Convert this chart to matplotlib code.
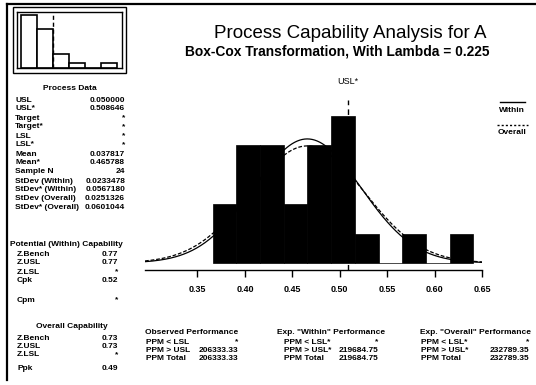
import numpy as np
import matplotlib
matplotlib.use("Agg")
import matplotlib.pyplot as plt
from matplotlib.patches import Rectangle
from matplotlib.lines import Line2D

# ---------------- data ----------------
# transformed histogram (Box-Cox, lambda=0.225)
bin_edges_t = [0.366, 0.391, 0.416, 0.441, 0.466, 0.491, 0.516, 0.541, 0.566, 0.591, 0.616, 0.641]
counts_t = [2, 4, 4, 2, 4, 5, 1, 0, 1, 0, 1]
# raw data mini histogram
bin_edges_raw = [0.01, 0.03, 0.05, 0.07, 0.09, 0.11, 0.13]
counts_raw = [11, 8, 3, 1, 0, 1]
usl_raw = 0.05
usl_t = 0.508646
mean_t = 0.465788
sd_within_t = 0.0567180
sd_overall_t = 0.0601044
n_obs = 24
xticks = [0.35, 0.40, 0.45, 0.50, 0.55, 0.60, 0.65]
xtick_labels = ["0.35", "0.40", "0.45", "0.50", "0.55", "0.60", "0.65"]

title = "Process Capability Analysis for A"
subtitle = "Box-Cox Transformation, With Lambda = 0.225"

process_labels = ["USL", "USL*", "Target", "Target*", "LSL", "LSL*", "Mean", "Mean*",
                  "Sample N", "StDev (Within)", "StDev* (Within)", "StDev (Overall)",
                  "StDev* (Overall)"]
process_values = ["0.050000", "0.508646", "*", "*", "*", "*", "0.037817", "0.465788",
                  "24", "0.0233478", "0.0567180", "0.0251326", "0.0601044"]
within_labels = ["Z.Bench", "Z.USL", "Z.LSL", "Cpk"]
within_values = ["0.77", "0.77", "*", "0.52"]
cpm_label, cpm_value = "Cpm", "*"
overall_labels = ["Z.Bench", "Z.USL", "Z.LSL", "Ppk"]
overall_values = ["0.73", "0.73", "*", "0.49"]

perf_headers = ["Observed Performance", "Exp. \"Within\" Performance", "Exp. \"Overall\" Performance"]
perf_labels = [["PPM < LSL", "PPM > USL", "PPM Total"],
               ["PPM < LSL*", "PPM > USL*", "PPM Total"],
               ["PPM < LSL*", "PPM > USL*", "PPM Total"]]
perf_values = [["*", "206333.33", "206333.33"],
               ["*", "219684.75", "219684.75"],
               ["*", "232789.35", "232789.35"]]

# ---------------- figure ----------------
plt.rcParams['font.family'] = ['Liberation Sans', 'DejaVu Sans']
W, H = 536, 385
fig = plt.figure(figsize=(W / 100, H / 100), dpi=100)
fig.patch.set_facecolor("white")


def P(x, y):
    return (x / W, 1 - y / H)


def add_ax(x0, y0, x1, y1):
    return fig.add_axes([x0 / W, 1 - y1 / H, (x1 - x0) / W, (y1 - y0) / H])

# frame lines (top and left)
fig.add_artist(Line2D([7 / W, 1], [1 - 4 / H, 1 - 4 / H], color="black", lw=1.6))
fig.add_artist(Line2D([7 / W, 7 / W], [1 - 4 / H, 1 - 380 / H], color="black", lw=1.6))

# mini histogram box
fig.add_artist(Rectangle(P(13, 73), 113 / W, 66 / H, fill=False, ec="black", lw=1.0))
axm = add_ax(17, 12, 122, 68)
axm.bar(bin_edges_raw[:-1], counts_raw, width=np.diff(bin_edges_raw), align="edge",
        color="white", edgecolor="black", linewidth=1.2)
axm.axvline(usl_raw, color="black", ls=(0, (3, 2)), lw=1.0)
axm.set_xlim(0.005, 0.136)
axm.set_ylim(0, 11.6)
axm.set_xticks([])
axm.set_yticks([])
for s in axm.spines.values():
    s.set_linewidth(1.0)

# main histogram
ax = add_ax(145, 100, 482, 270)
ax.bar(bin_edges_t[:-1], counts_t, width=np.diff(bin_edges_t), align="edge",
       color="black", edgecolor="black", linewidth=0.5, zorder=2)
bw = bin_edges_t[1] - bin_edges_t[0]
xs = np.linspace(0.2947, 0.65, 400)
for sd, ls in [(sd_within_t, "-"), (sd_overall_t, (0, (3, 1.5)))]:
    ys = n_obs * bw * np.exp(-0.5 * ((xs - mean_t) / sd) ** 2) / (sd * np.sqrt(2 * np.pi))
    ax.plot(xs, ys, color="black", lw=0.9, ls=ls, zorder=3)
ax.axvline(usl_t, color="black", ls=(0, (4, 3)), lw=1.0, zorder=1)
ax.set_xlim(0.2947, 0.65)
ax.set_ylim(-0.238, 5.544)
for sp in ["left", "top", "right"]:
    ax.spines[sp].set_visible(False)
ax.spines["bottom"].set_linewidth(1.0)
ax.set_yticks([])
ax.set_xticks(xticks)
ax.set_xticklabels(xtick_labels, fontsize=6.5, fontweight="bold")
ax.tick_params(axis="x", length=5, width=1.0, pad=6)
ax.text(usl_t, 1.11, "USL*", transform=ax.get_xaxis_transform(), ha="center", va="center",
        fontsize=6.5)

# titles
fig.text(*P(350, 33), title, ha="center", va="center", fontsize=13.5)
fig.text(*P(337, 51), subtitle, ha="center", va="center", fontsize=9.9, fontweight="bold")

# legend
fig.add_artist(Line2D([500 / W, 525 / W], [1 - 102 / H] * 2, color="black", lw=1.0))
fig.text(*P(512, 110), "Within", ha="center", va="center", fontsize=6, fontweight="bold")
fig.add_artist(Line2D([497 / W, 528 / W], [1 - 125 / H] * 2, color="black", lw=1.0,
                      ls=(0, (1.5, 1.5))))
fig.text(*P(512, 133), "Overall", ha="center", va="center", fontsize=6, fontweight="bold")

# left panel
fs = 6.0
fig.text(*P(70, 89), "Process Data", ha="center", va="center", fontsize=fs, fontweight="bold")
y = 100
for lab, val in zip(process_labels, process_values):
    fig.text(*P(15, y), lab, ha="left", va="center", fontsize=fs, fontweight="bold")
    fig.text(*P(125, y), val, ha="right", va="center", fontsize=fs, fontweight="bold")
    y += 9.0
fig.text(*P(66, 244), "Potential (Within) Capability", ha="center", va="center", fontsize=fs,
         fontweight="bold")
y = 254
for lab, val in zip(within_labels, within_values):
    fig.text(*P(17, y), lab, ha="left", va="center", fontsize=fs, fontweight="bold")
    fig.text(*P(118, y), val, ha="right", va="center", fontsize=fs, fontweight="bold")
    y += 9.0
fig.text(*P(17, 300), cpm_label, ha="left", va="center", fontsize=fs, fontweight="bold")
fig.text(*P(118, 300), cpm_value, ha="right", va="center", fontsize=fs, fontweight="bold")
fig.text(*P(72, 327), "Overall Capability", ha="center", va="center", fontsize=fs,
         fontweight="bold")
ys_o = [338, 347, 355, 369]
for lab, val, yy in zip(overall_labels, overall_values, ys_o):
    fig.text(*P(17, yy), lab, ha="left", va="center", fontsize=fs, fontweight="bold")
    fig.text(*P(118, yy), val, ha="right", va="center", fontsize=fs, fontweight="bold")

# performance tables
col_left = [146, 284, 421]
col_right = [238, 378, 529]
for hdr, labs, vals, xl, xr in zip(perf_headers, perf_labels, perf_values, col_left, col_right):
    fig.text(*P((xl + xr) / 2, 333), hdr, ha="center", va="center", fontsize=fs,
             fontweight="bold")
    yy = 342
    for lab, val in zip(labs, vals):
        fig.text(*P(xl, yy), lab, ha="left", va="center", fontsize=fs, fontweight="bold")
        fig.text(*P(xr, yy), val, ha="right", va="center", fontsize=fs, fontweight="bold")
        yy += 8.5

fig.savefig("out.png", dpi=100, facecolor="white")
